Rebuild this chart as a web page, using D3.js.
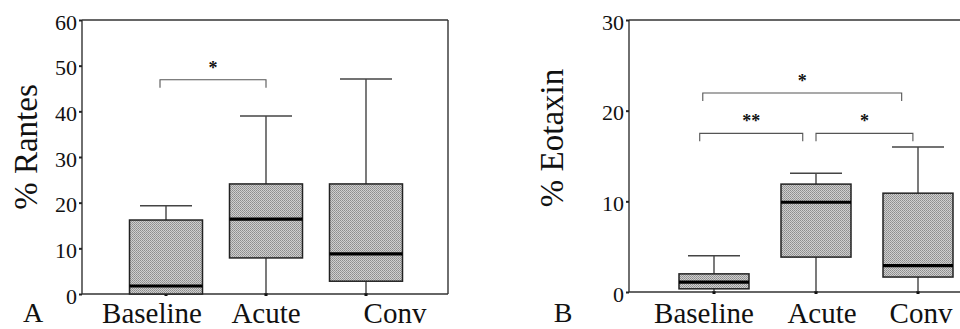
<!DOCTYPE html>
<html>
<head>
<meta charset="utf-8">
<script src="https://cdn.jsdelivr.net/npm/d3@7"></script>
<style>
  body { margin: 0; background: #fff; }
  svg { display: block; }
  svg text { font-family: "Liberation Serif", "DejaVu Serif", serif !important; fill: #111; }
</style>
</head>
<body>
<div id="chart"></div>
<script>
// groups on the x axis
const groups = ["Baseline", "Acute", "Conv"]

// box stats: [min, q1, median, q3, max]
const rantes = [
  [0, 0, 1.75, 16.2, 19.3],
  [0, 7.9, 16.4, 24.1, 39],
  [0, 2.8, 8.8, 24.1, 47.1]
]
const eotaxin = [
  [0, 0.35, 1.1, 2.0, 4.0],
  [0, 3.85, 9.9, 11.9, 13.1],
  [0, 1.65, 2.9, 10.9, 16.0]
]

const rantesTicks = [0, 10, 20, 30, 40, 50, 60]
const eotaxinTicks = [0, 10, 20, 30]

// significance brackets: from/to in group index units, level in data units
const rantesSig = [
  {from: -0.06, to: 1.0, level: 46.9, label: "*"}
]
const eotaxinSig = [
  {from: -0.11, to: 1.84, level: 21.95, label: "*"},
  {from: -0.14, to: 0.87, level: 17.5, label: "**"},
  {from: 1.0, to: 1.95, level: 17.5, label: "*"}
]

const width = 960, height = 329

const svg = d3.select("#chart").append("svg")
    .attr("width", width)
    .attr("height", height)

// stippled grey fill like the scanned figure
const pat = svg.append("defs").append("pattern")
    .attr("id", "stipple")
    .attr("width", 2).attr("height", 2)
    .attr("patternUnits", "userSpaceOnUse")
pat.append("rect").attr("width", 2).attr("height", 2).attr("fill", "#cfcfcf")
pat.append("rect").attr("width", 1).attr("height", 1).attr("fill", "#8c8c8c")
pat.append("rect").attr("x", 1).attr("y", 1).attr("width", 1).attr("height", 1).attr("fill", "#9a9a9a")

function panel(opt) {
  const g = svg.append("g")

  const y = d3.scaleLinear()
      .domain([0, d3.max(opt.ticks)])
      .range([opt.bottom, opt.top])

  const x = d3.scalePoint()
      .domain(groups)
      .range(opt.xr)

  const xi = d3.scaleLinear()
      .domain([0, groups.length - 1])
      .range(opt.xr)

  // frame
  const fr = g.append("g").attr("fill", "none").attr("stroke", "#333").attr("stroke-width", 1.4)
  fr.append("line").attr("x1", opt.left).attr("x2", opt.right).attr("y1", opt.top).attr("y2", opt.top)
  fr.append("line").attr("x1", opt.left).attr("x2", opt.right).attr("y1", opt.bottom).attr("y2", opt.bottom)
  fr.append("line").attr("x1", opt.left).attr("x2", opt.left).attr("y1", opt.top).attr("y2", opt.bottom)
  if (opt.rightEdge)
    fr.append("line").attr("x1", opt.right).attr("x2", opt.right).attr("y1", opt.top).attr("y2", opt.bottom)

  // y axis
  g.append("g")
      .attr("transform", `translate(${opt.left},0)`)
      .call(d3.axisLeft(y).tickValues(opt.ticks).tickSize(3).tickPadding(2))
      .attr("font-family", null)
      .call(a => a.select(".domain").remove())
      .call(a => a.selectAll(".tick line").attr("stroke", "#222").attr("stroke-width", 2))
      .call(a => a.selectAll(".tick text")
          .attr("dy", "0.42em")
          .style("font-size", "22px")
          .attr("fill", "#111"))

  // bottom tick dots under each group
  g.append("g").selectAll("rect")
    .data(groups)
    .join("rect")
      .attr("x", d => x(d) - 1.5)
      .attr("y", opt.bottom - 1)
      .attr("width", 3).attr("height", 3)
      .attr("fill", "#111")

  const bw = opt.boxWidth, cap = 26
  const box = g.append("g").selectAll("g")
    .data(opt.data)
    .join("g")
      .attr("transform", (d, i) => `translate(${x(groups[i])},0)`)

  // upper whisker
  box.append("line")
      .attr("y1", d => y(d[3])).attr("y2", d => y(d[4]))
      .attr("stroke", "#333").attr("stroke-width", 1.3)
  box.append("line")
      .attr("x1", -cap).attr("x2", cap)
      .attr("y1", d => y(d[4])).attr("y2", d => y(d[4]))
      .attr("stroke", "#444").attr("stroke-width", 1.5)
  // lower whisker
  box.append("line")
      .attr("y1", d => y(d[1])).attr("y2", d => y(d[0]))
      .attr("stroke", "#333").attr("stroke-width", 1.3)

  box.append("rect")
      .attr("x", -bw / 2)
      .attr("width", bw)
      .attr("y", d => y(d[3]))
      .attr("height", d => y(d[1]) - y(d[3]))
      .attr("fill", "url(#stipple)")
      .attr("stroke", "#222")
      .attr("stroke-width", 1.5)

  box.append("line")
      .attr("x1", -bw / 2).attr("x2", bw / 2)
      .attr("y1", d => y(d[2])).attr("y2", d => y(d[2]))
      .attr("stroke", "#000").attr("stroke-width", 3.2)

  // brackets
  const br = g.append("g").selectAll("g")
    .data(opt.sig)
    .join("g")
  br.append("path")
      .attr("fill", "none")
      .attr("stroke", "#555")
      .attr("stroke-width", 1.1)
      .attr("d", d => {
        const x1 = xi(d.from), x2 = xi(d.to), yy = y(d.level)
        return `M${x1},${yy + 8}V${yy}H${x2}V${yy + 8}`
      })
  br.append("text")
      .attr("x", d => (xi(d.from) + xi(d.to)) / 2)
      .attr("y", d => y(d.level) - 6)
      .attr("text-anchor", "middle")
      .style("font-size", "18px")
      .style("font-weight", "bold")
      .text(d => d.label)

  // group labels
  g.append("g").selectAll("text")
    .data(groups)
    .join("text")
      .attr("x", (d, i) => x(d) + opt.labelDx[i])
      .attr("y", 323)
      .attr("text-anchor", "middle")
      .style("font-size", "29px")
      .text(d => d)

  // y title
  g.append("text")
      .attr("transform", `translate(${opt.titleX},${opt.titleY}) rotate(-90)`)
      .attr("text-anchor", "middle")
      .style("font-size", "33px")
      .text(opt.title)

  // panel letter
  g.append("text")
      .attr("x", opt.letterX)
      .attr("y", 322)
      .attr("text-anchor", "middle")
      .style("font-size", "28px")
      .text(opt.letter)
}

panel({
  data: rantes, ticks: rantesTicks, sig: rantesSig,
  left: 82, right: 448, top: 20, bottom: 294, rightEdge: true,
  xr: [166, 366], boxWidth: 73, labelDx: [-14, 0, 29],
  title: "% Rantes", titleX: 37, titleY: 147,
  letter: "A", letterX: 33
})

panel({
  data: eotaxin, ticks: eotaxinTicks, sig: eotaxinSig,
  left: 629, right: 962, top: 20, bottom: 292, rightEdge: false,
  xr: [714, 918], boxWidth: 70, labelDx: [-10, 6, 3],
  title: "% Eotaxin", titleX: 563, titleY: 138,
  letter: "B", letterX: 563
})
</script>
</body>
</html>
